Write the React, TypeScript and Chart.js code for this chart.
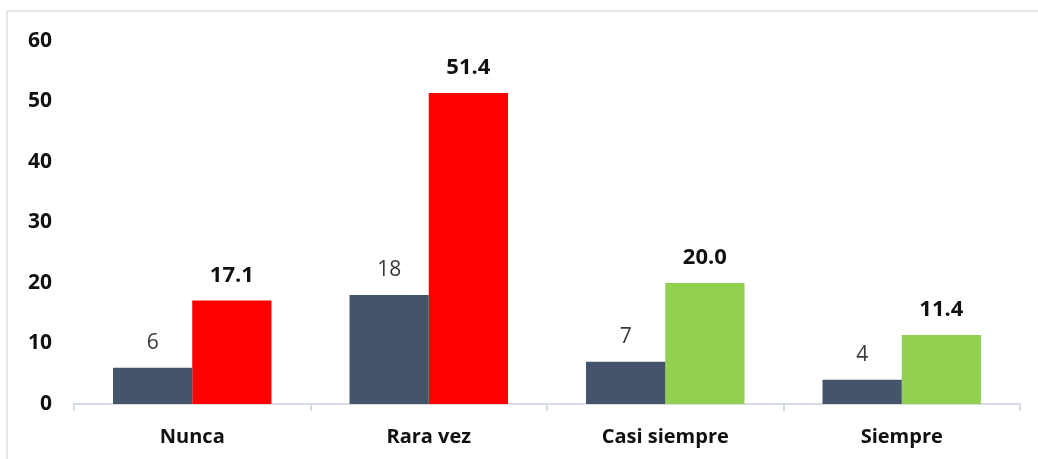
import React, { useEffect, useRef } from "react";
import { Chart, registerables } from "chart.js";

Chart.register(...registerables);

const categories = ["Nunca", "Rara vez", "Casi siempre", "Siempre"];
const countValues = [6, 18, 7, 4];
const percentValues = [17.1, 51.4, 20.0, 11.4];
const percentColors = ["#FF0000", "#FF0000", "#92D050", "#92D050"];
const yTicks = [0, 10, 20, 30, 40, 50, 60];

const FONT = "'Open Sans', 'Noto Sans', sans-serif";

const labelPlugin = {
  id: "barLabels",
  afterDatasetsDraw(chart: any) {
    const ctx = chart.ctx;
    chart.data.datasets.forEach((ds: any, di: number) => {
      const meta = chart.getDatasetMeta(di);
      meta.data.forEach((bar: any, i: number) => {
        const v = ds.data[i];
        const txt = di === 0 ? String(v) : v.toFixed(1);
        ctx.save();
        ctx.fillStyle = di === 0 ? "#3A3A3A" : "#111111";
        ctx.font = (di === 0 ? "400 21px " : "700 22px ") + FONT;
        ctx.textAlign = "center";
        ctx.textBaseline = "alphabetic";
        ctx.fillText(txt, bar.x, bar.y - 19);
        ctx.restore();
      });
    });
  },
};

export default function App() {
  const ref = useRef<HTMLCanvasElement | null>(null);
  useEffect(() => {
    if (!ref.current) return;
    const chart = new Chart(ref.current, {
      type: "bar",
      data: {
        labels: categories,
        datasets: [
          {
            label: "n",
            data: countValues,
            backgroundColor: "#44546A",
            categoryPercentage: 0.67,
            barPercentage: 1.0,
          },
          {
            label: "%",
            data: percentValues,
            backgroundColor: percentColors,
            categoryPercentage: 0.67,
            barPercentage: 1.0,
          },
        ],
      },
      options: {
        responsive: false,
        animation: false,
        maintainAspectRatio: false,
        layout: { padding: { top: 41, right: 18, bottom: 0, left: 0 } },
        plugins: { legend: { display: false }, tooltip: { enabled: false } },
        scales: {
          x: {
            grid: {
              display: true,
              drawOnChartArea: false,
              drawTicks: true,
              tickLength: 7,
              color: "#D6DCE4",
              lineWidth: 2,
              offset: true,
            },
            border: { display: true, color: "#D6DCE4", width: 2 },
            ticks: {
              color: "#111111",
              padding: 14,
              font: { family: FONT, size: 20, weight: "bold" },
            },
            afterFit: (scale: any) => {
              scale.height = 55;
            },
          },
          y: {
            min: 0,
            max: 60,
            afterBuildTicks: (scale: any) => {
              scale.ticks = yTicks.map((v) => ({ value: v }));
            },
            grid: { display: false, drawTicks: false },
            border: { display: false },
            ticks: {
              color: "#111111",
              padding: 22,
              font: { family: FONT, size: 21, weight: "bold" },
            },
            afterFit: (scale: any) => {
              scale.width = 74;
            },
          },
        },
      },
      plugins: [labelPlugin],
    });
    return () => chart.destroy();
  }, []);

  return (
    <div style={{ position: "fixed", left: 0, top: 0, width: 1038, height: 459, background: "#fff", overflow: "hidden" }}>
      <div style={{ position: "absolute", left: 6, top: 10, width: 1032, height: 2, background: "#E3E7EC" }} />
      <div style={{ position: "absolute", left: 6, top: 10, width: 2, height: 449, background: "#E3E7EC" }} />
      <canvas ref={ref} width={1038} height={459} style={{ position: "absolute", left: 0, top: 0 }} />
    </div>
  );
}
